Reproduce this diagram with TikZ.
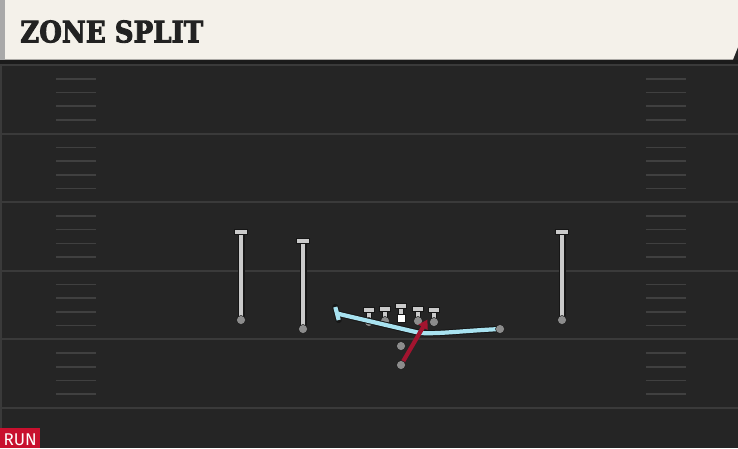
\documentclass[tikz,border=0pt]{standalone}
\usepackage{fontspec}
\usetikzlibrary{arrows.meta}
\definecolor{field}{HTML}{252525}
\definecolor{yardline}{HTML}{3A3A3A}
\definecolor{hash}{HTML}{404040}
\definecolor{header}{HTML}{F4F1EA}
\definecolor{headstrip}{HTML}{A9A9A9}
\definecolor{shadowband}{HTML}{1B1B1B}
\definecolor{stemgray}{HTML}{CACACA}
\definecolor{outl}{HTML}{161616}
\definecolor{dotgray}{HTML}{8C8C8C}
\definecolor{zoneblue}{HTML}{A8E2F0}
\definecolor{runred}{HTML}{A3142F}
\definecolor{tagred}{HTML}{C8102E}
\definecolor{titleink}{HTML}{222222}
\newfontfamily\titlefont[FakeBold=3]{DejaVu Serif Bold}
\newfontfamily\tagfont{Fira Sans}
\tikzset{
  yardln/.style={draw=yardline, line width=2},
  hashln/.style={draw=hash, line width=1.6},
  stemout/.style={draw=outl, line width=7},
  stemin/.style={draw=stemgray, line width=4.6},
  tbar/.style={rectangle, fill=stemgray, draw=outl, line width=1, minimum width=13, minimum height=5, inner sep=0},
  olbar/.style={rectangle, fill=stemgray, draw=outl, line width=0.9, minimum width=11, minimum height=5, inner sep=0},
  pdot/.style={circle, fill=dotgray, draw=outl, line width=0.5, minimum size=9, inner sep=0},
  csq/.style={rectangle, fill=white, draw=outl, line width=0.6, minimum size=8, inner sep=0},
  zoneout/.style={draw=outl, line width=6.2, line join=round},
  zonein/.style={draw=zoneblue, line width=4.2, line join=round},
  runline/.style={draw=runred, line width=4.2, -{Triangle[length=9,width=10]}},
}
\begin{document}
\begin{tikzpicture}[x=1pt,y=-1pt]
\useasboundingbox (0,0) rectangle (738,448);
% field
\fill[field] (0,0) rectangle (738,448);
\fill[yardline] (0,60) rectangle (2,448);
\fill[shadowband] (0,60) rectangle (738,64);
% yard lines
\foreach \k in {0,...,5} {
  \draw[yardln] (0,{65+68.6*\k}) -- (738,{65+68.6*\k});
}
% hash marks
\foreach \k in {0,...,4} {
  \foreach \j in {1,...,4} {
    \draw[hashln] (56,{65+68.6*\k+13.72*\j}) -- (96,{65+68.6*\k+13.72*\j});
    \draw[hashln] (646,{65+68.6*\k+13.72*\j}) -- (686,{65+68.6*\k+13.72*\j});
  }
}
% header
\fill[header] (0,0) -- (738,0) -- (738,47) -- (733,59.5) -- (0,59.5) -- cycle;
\fill[headstrip] (0,0) rectangle (5,59.5);
\node[anchor=south west, inner sep=0, text=titleink] (title) at (20,43)
  {\resizebox{183pt}{22pt}{\titlefont ZONE SPLIT}};

% receivers
\coordinate (wr1top) at (241,232);
\coordinate (wr1) at (241,320);
\coordinate (wr2top) at (303,241);
\coordinate (wr2) at (303,329);
\coordinate (wr3top) at (562,232);
\coordinate (wr3) at (562,320);
\foreach \r in {wr1,wr2,wr3} {
  \draw[stemout] (\r) -- (\r top);
  \draw[stemin] (\r) -- (\r top);
  \node[tbar] at (\r top) {};
  \node[pdot] at (\r) {};
}

% offensive line
\coordinate (lt) at (369,322);
\coordinate (lg) at (385,321);
\coordinate (rg) at (418,321);
\coordinate (rt) at (434,322);
\foreach \p in {lt,lg,rg,rt} {
  \draw[stemout, line width=6] ([yshift=12]\p) -- (\p);
  \draw[stemin, line width=4] ([yshift=12]\p) -- (\p);
  \node[olbar] at ([yshift=12]\p) {};
  \node[pdot] at (\p) {};
}
\coordinate (ctop) at (401,306);
\draw[stemout, line width=6] (ctop) -- ++(0,8);
\draw[stemin, line width=4] (ctop) -- ++(0,8);
\node[olbar] at (ctop) {};
\node[csq] (center) at (401,318) {};

% zone blocker path
\coordinate (hb) at (500,329);
\coordinate (hbend) at (337,313.5);
\coordinate (tA) at (335.3,307);
\coordinate (tB) at (338.7,320);
\draw[zoneout] (hb) .. controls (460,331) and (440,334) .. (420,333) -- (hbend);
\draw[zoneout, line cap=round] (tA) -- (tB);
\draw[zonein] (hb) .. controls (460,331) and (440,334) .. (420,333) -- (hbend);
\draw[zonein] (tA) -- (tB);
\node[pdot] at (hb) {};

% backfield
\coordinate (qb) at (401,346);
\coordinate (rb) at (401,365);
\coordinate (runend) at (427.5,319.5);
\node[pdot] at (qb) {};
\draw[runline] (rb) -- (runend);
\node[pdot] at (rb) {};

% RUN tag
\fill[tagred] (0,428) rectangle (40,448);
\node[anchor=base west, inner sep=0, text=white, font=\tagfont\fontsize{17}{17}\selectfont] (runtag) at (3.5,445) {RUN};
\end{tikzpicture}
\end{document}
